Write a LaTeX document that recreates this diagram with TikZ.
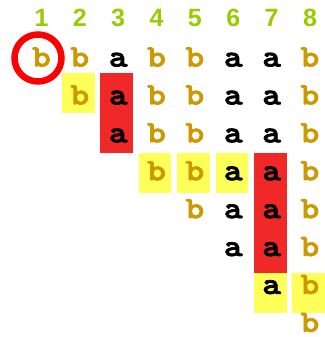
\documentclass[tikz,border=0pt]{standalone}
\usepackage{fontspec}
\setmainfont{Liberation Sans}
\newfontfamily\ltrfont{lmmonolt10-bold}[Extension=.otf, FakeBold=2.2, FakeStretch=1.15]
\definecolor{ltrgold}{RGB}{204,153,0}
\definecolor{hdrgreen}{RGB}{153,204,0}
\definecolor{hlyellow}{RGB}{255,255,90}
\definecolor{hlred}{RGB}{240,40,40}
\tikzset{
  hdr/.style={font=\bfseries\fontsize{25}{25}\selectfont, text=hdrgreen, anchor=base, inner sep=0pt},
  ltr/.style={font=\ltrfont\fontsize{31}{31}\selectfont, anchor=base, inner sep=0pt},
  lb/.style={ltr, text=ltrgold},
  la/.style={ltr, text=black},
  hly/.style={fill=hlyellow},
  hlr/.style={fill=hlred},
  mark ring/.style={draw=red, line width=6.5pt},
}
% cell (column, first row, last row) highlight
\newcommand{\hlcell}[4]{%
  \fill[#1] ({62+38.4*(#2-2)},{33+40*(#3-1)}) rectangle ++(32.5,{40*(#4-#3+1)});}

\begin{document}
\begin{tikzpicture}[x=1pt, y=-1pt]
    \def\dx{38.35} \def\dy{37.9}
    \fill[white] (0,0) rectangle (323,337);
    % highlights
    \hlcell{hly}{2}{2}{2}
    \hlcell{hlr}{3}{2}{3}
    \hlcell{hly}{4}{4}{4}
    \hlcell{hly}{5}{4}{4}
    \hlcell{hly}{6}{4}{4}
    \hlcell{hlr}{7}{4}{6}
    \hlcell{hly}{7}{7}{7}
    \hlcell{hly}{8}{7}{7}
    % columns: header and letters
    \foreach \c/\s in {1/b,2/b,3/a,4/b,5/b,6/a,7/a,8/b} {
      \node[hdr] (h\c) at ({41.5+\dx*(\c-1)},27) {\c};
      \foreach \r in {1,...,\c}
        \node[l\s] (c\c r\r) at ({41.5+\dx*(\c-1)},{66.5+\dy*(\r-1)}) {\s};
    }
    \draw[mark ring] (38,58) circle (23.5);
  \end{tikzpicture}
\end{document}
